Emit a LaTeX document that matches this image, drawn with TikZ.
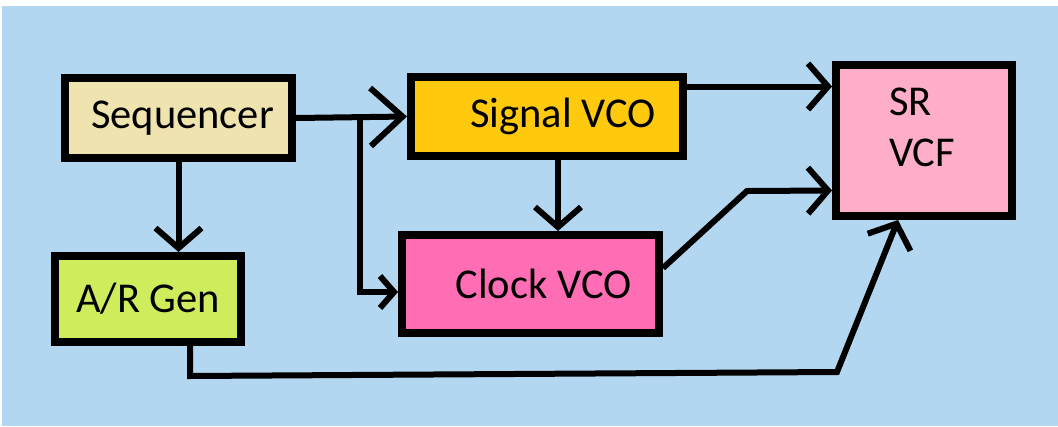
\documentclass[tikz,border=0pt]{standalone}
\usepackage{fontspec}
\setmainfont{Carlito}
\usetikzlibrary{arrows.meta}

\definecolor{bgblue}{RGB}{179,215,240}
\definecolor{seqbeige}{RGB}{239,228,176}
\definecolor{argreen}{RGB}{207,236,93}
\definecolor{siggold}{RGB}{255,201,14}
\definecolor{clkpink}{RGB}{255,110,180}
\definecolor{vcfpink}{RGB}{255,174,201}

\tikzset{
    block/.style={draw, rectangle, line width=8pt, font=\fontsize{42.5}{51}\selectfont},
    wire/.style={line width=6pt, -{Straight Barb[length=20pt,width=46pt]}}
}

\begin{document}
\begin{tikzpicture}[x=1pt, y=-1pt]
    \useasboundingbox (0,0) rectangle (1058,426);
    \fill[bgblue] (2,6) rectangle (1058,426);

    % Sequencer
    \node[block, fill=seqbeige, minimum width=227pt, minimum height=80pt] (seq) at (178.5,118) {\hspace*{8pt}Sequencer};

    % A/R Gen
    \node[block, fill=argreen, minimum width=186pt, minimum height=86pt] (argen) at (148,299) {A/R Gen};

    % Signal VCO
    \node[block, fill=siggold, minimum width=272pt, minimum height=79pt] (sigvco) at (547,116.5) {\hspace*{32pt}Signal VCO};

    % Clock VCO
    \node[block, fill=clkpink, minimum width=257pt, minimum height=98pt] (clkvco) at (530.5,284) {\hspace*{26pt}Clock VCO};

    % SR VCF
    \node[block, fill=vcfpink, minimum width=176pt, minimum height=151pt,
          label={[align=left, font=\fontsize{42.5}{51}\selectfont, xshift=-2pt, yshift=13pt]center:SR\\VCF}] (srvcf) at (924,140.5) {};

    % bend points
    \coordinate (split) at (360,118);
    \coordinate (clkbend) at (747,191);
    \coordinate (arlow) at (190,376);
    \coordinate (arright) at (837,372);

    % Connections
    \draw[wire, -{Straight Barb[length=32pt,width=58pt]}] (seq.east) -- (sigvco.west);
    \draw[wire, -{Straight Barb[length=14pt,width=32pt]}] (split) |- ([yshift=-8pt]clkvco.west);
    \draw[wire] (seq.south) -- (seq.south |- argen.north);
    \draw[wire] ([xshift=11pt]sigvco.south) -- ([xshift=11pt]sigvco.south |- clkvco.north);
    \draw[wire] ([yshift=30pt]sigvco.east) -- ([yshift=30pt]sigvco.east -| srvcf.west);
    \draw[wire] ([yshift=16pt]clkvco.east) -- (clkbend) -- ([yshift=-50pt]srvcf.west);
    \draw[wire] ([xshift=42pt]argen.south) -- (arlow) -- (arright) -- ([xshift=-26pt]srvcf.south);
\end{tikzpicture}
\end{document}
